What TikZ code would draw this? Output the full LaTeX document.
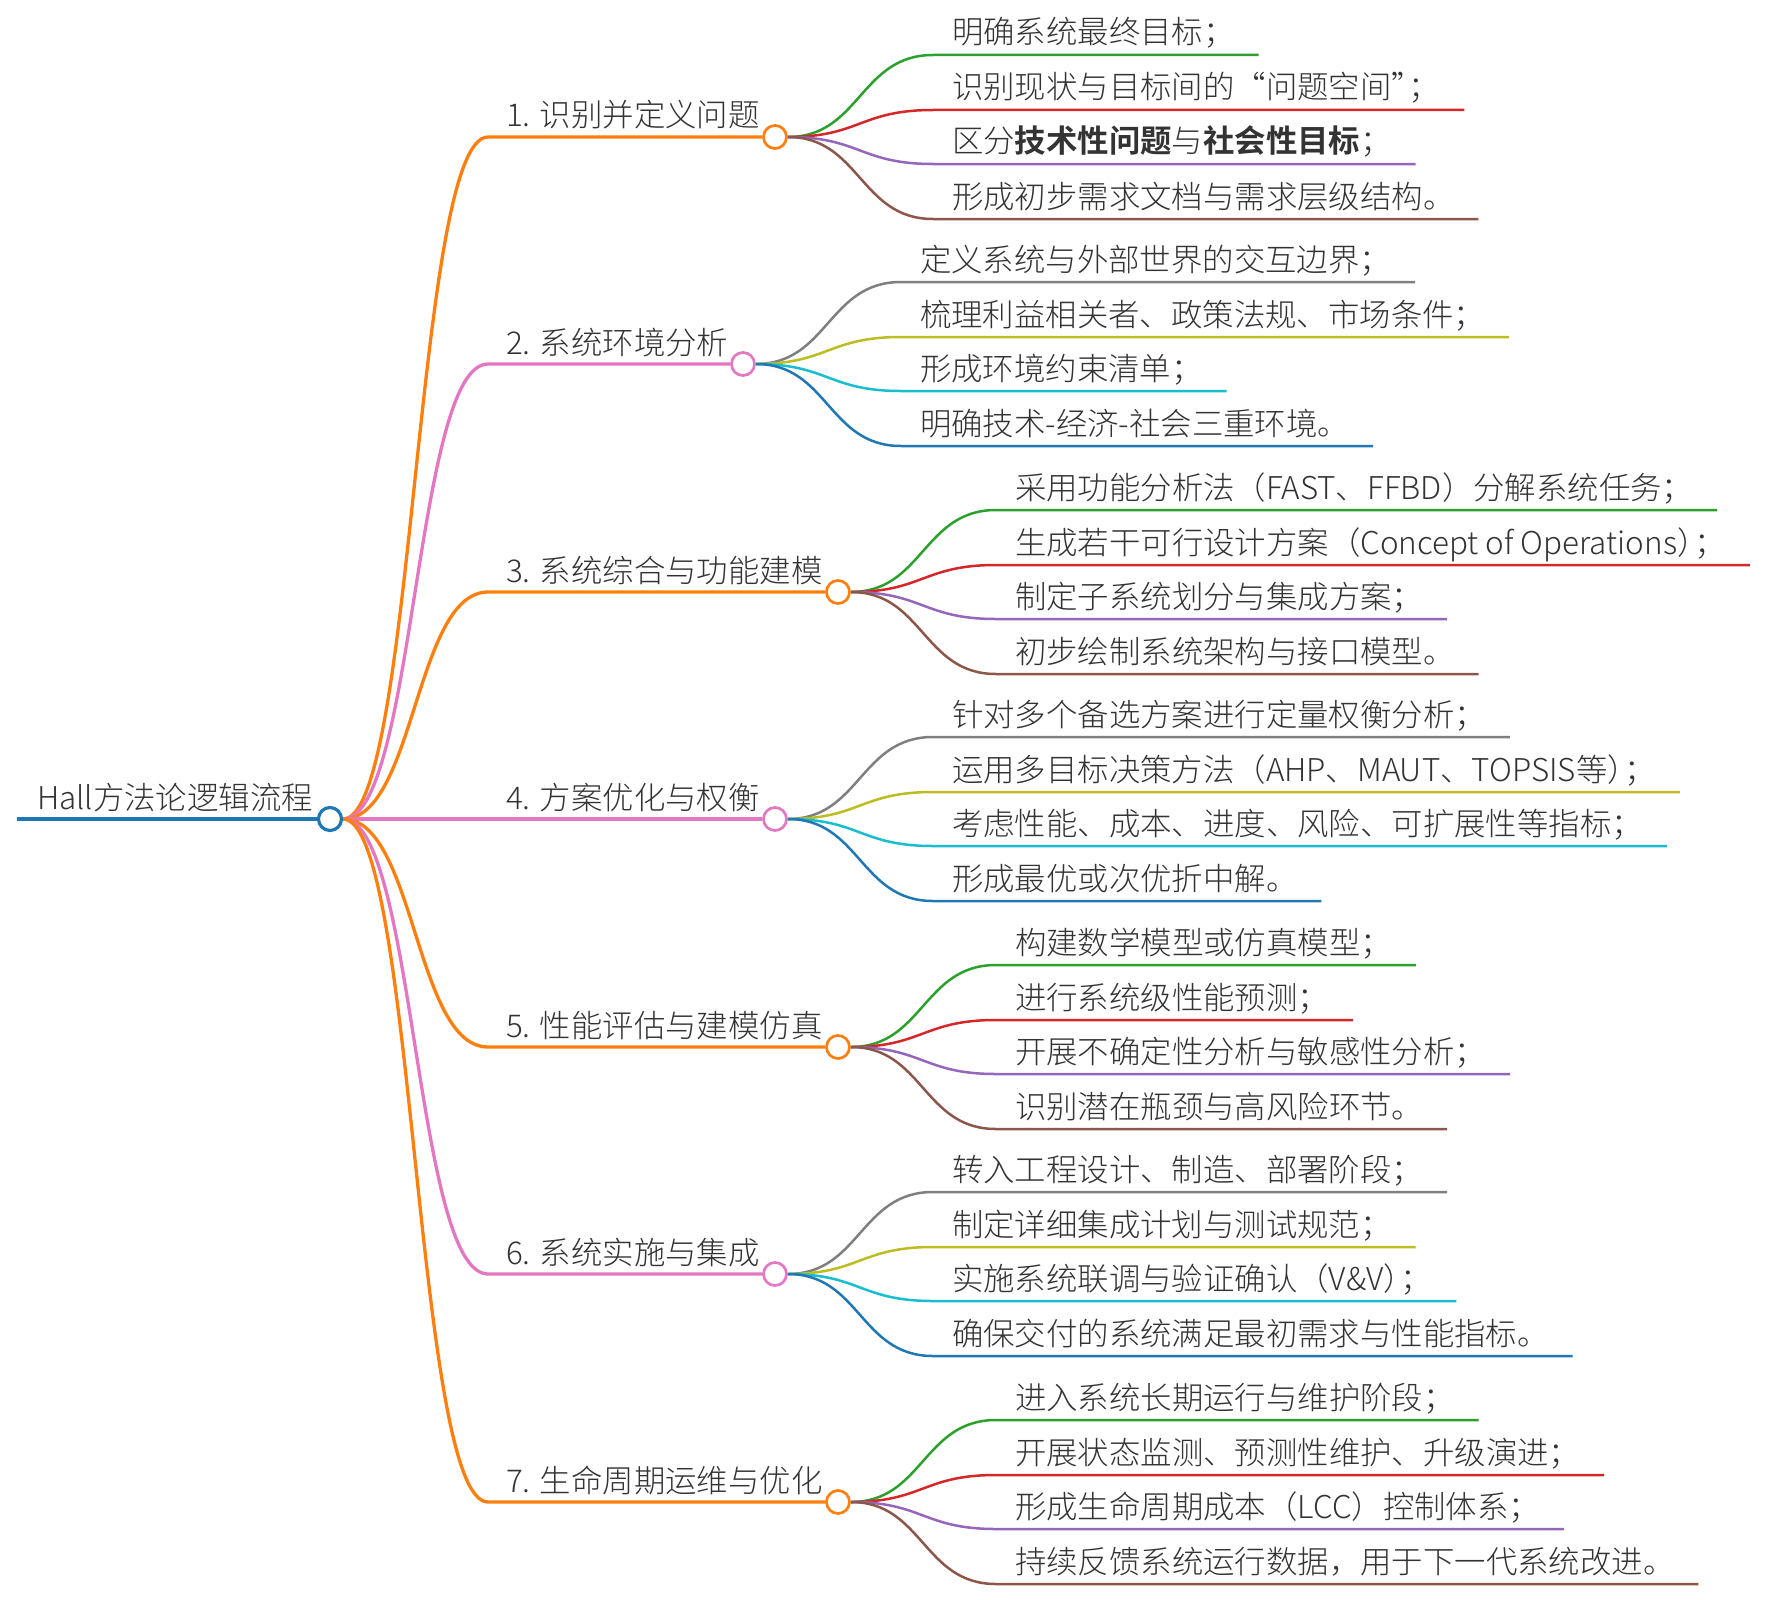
\documentclass[tikz,border=0pt]{standalone}
\usepackage{fontspec}
\setmainfont{Noto Sans CJK SC}[UprightFont={* Light}, BoldFont={* Bold}]
\usetikzlibrary{calc,backgrounds}
\definecolor{ink}{HTML}{333333}
\definecolor{cBlue}{HTML}{1F77B4}
\definecolor{cOrange}{HTML}{FF7F0E}
\definecolor{cGreen}{HTML}{2CA02C}
\definecolor{cRed}{HTML}{D62728}
\definecolor{cPurple}{HTML}{9467BD}
\definecolor{cBrown}{HTML}{8C564B}
\definecolor{cPink}{HTML}{E377C2}
\definecolor{cGray}{HTML}{7F7F7F}
\definecolor{cOlive}{HTML}{BCBD22}
\definecolor{cCyan}{HTML}{17BECF}
\newcommand\pq{\kern-0.45em}
\tikzset{
  txt/.style={inner sep=0pt, outer sep=0pt, text=ink, font=\fontsize{31.4}{36}\selectfont},
  dot/.style={circle, minimum size=23pt, inner sep=0pt, line width=2.7pt, fill=white},
  rootline/.style={line width=4.2pt},
  branchline/.style={line width=3.3pt},
  leafline/.style={line width=2.5pt},
}
% #1 branch name, #2 y, #3 circle x, #4 colour, #5 text
\newcommand\branchitem[5]{%
  \coordinate (#1s) at (488,#2);
  \node[dot, draw=#4] (#1) at (#3,#2) {};
  \node[txt, anchor=base west] (#1t) at ($(#1s)+(18,-10)$) {#5};
  \begin{pgfonlayer}{background}
    \draw[branchline, #4] (rc.east) .. controls (415,819) and (415,#2) .. (#1s) -- (#1);
  \end{pgfonlayer}
}
% #1 branch name, #2 dy, #3 colour, #4 leaf name, #5 text
\newcommand\leafitem[5]{%
  \coordinate (#4s) at ($(#1)+(158,#2)$);
  \node[txt, anchor=base west] (#4) at ($(#4s)+(19,-11)$) {#5};
  \begin{pgfonlayer}{background}
    \draw[leafline, #3] (#1.east) .. controls ($(#1)+(85,0)$) and ($(#4s)+(-73,0)$) .. (#4s) -- ($(#4.east |- #4s)+(24,0)$);
  \end{pgfonlayer}
}
\begin{document}
\begin{tikzpicture}[x=1pt,y=-1pt]
\useasboundingbox (0,0) rectangle (1772,1600);
% root
\coordinate (r0) at (17,819);
\node[dot, draw=cBlue, line width=3.2pt] (rc) at (330,819) {};
\node[txt, anchor=base west] (root) at (37,809) {Hall方法论逻辑流程};
\begin{pgfonlayer}{background}
  \draw[rootline, cBlue] (r0) -- (rc);
\end{pgfonlayer}
% branches
\branchitem{b1}{137}{775}{cOrange}{1. 识别并定义问题}
\branchitem{b2}{364}{743}{cPink}{2. 系统环境分析}
\branchitem{b3}{592}{838}{cOrange}{3. 系统综合与功能建模}
\branchitem{b4}{819}{775}{cPink}{4. 方案优化与权衡}
\branchitem{b5}{1047}{838}{cOrange}{5. 性能评估与建模仿真}
\branchitem{b6}{1274}{775}{cPink}{6. 系统实施与集成}
\branchitem{b7}{1502}{838}{cOrange}{7. 生命周期运维与优化}
% leaves of 1
\leafitem{b1}{-82}{cGreen}{l11}{明确系统最终目标；}
\leafitem{b1}{-27}{cRed}{l12}{识别现状与目标间的“问题空间”\pq；}
\leafitem{b1}{27}{cPurple}{l13}{区分\textbf{技术性问题}与\textbf{社会性目标}；}
\leafitem{b1}{82}{cBrown}{l14}{形成初步需求文档与需求层级结构。}
% leaves of 2
\leafitem{b2}{-82}{cGray}{l21}{定义系统与外部世界的交互边界；}
\leafitem{b2}{-27}{cOlive}{l22}{梳理利益相关者、政策法规、市场条件；}
\leafitem{b2}{27}{cCyan}{l23}{形成环境约束清单；}
\leafitem{b2}{82}{cBlue}{l24}{明确技术-经济-社会三重环境。}
% leaves of 3
\leafitem{b3}{-82}{cGreen}{l31}{采用功能分析法（FAST、FFBD）分解系统任务；}
\leafitem{b3}{-27}{cRed}{l32}{生成若干可行设计方案（Concept of Operations）\pq；}
\leafitem{b3}{27}{cPurple}{l33}{制定子系统划分与集成方案；}
\leafitem{b3}{82}{cBrown}{l34}{初步绘制系统架构与接口模型。}
% leaves of 4
\leafitem{b4}{-82}{cGray}{l41}{针对多个备选方案进行定量权衡分析；}
\leafitem{b4}{-27}{cOlive}{l42}{运用多目标决策方法（AHP、MAUT、TOPSIS等）\pq；}
\leafitem{b4}{27}{cCyan}{l43}{考虑性能、成本、进度、风险、可扩展性等指标；}
\leafitem{b4}{82}{cBlue}{l44}{形成最优或次优折中解。}
% leaves of 5
\leafitem{b5}{-82}{cGreen}{l51}{构建数学模型或仿真模型；}
\leafitem{b5}{-27}{cRed}{l52}{进行系统级性能预测；}
\leafitem{b5}{27}{cPurple}{l53}{开展不确定性分析与敏感性分析；}
\leafitem{b5}{82}{cBrown}{l54}{识别潜在瓶颈与高风险环节。}
% leaves of 6
\leafitem{b6}{-82}{cGray}{l61}{转入工程设计、制造、部署阶段；}
\leafitem{b6}{-27}{cOlive}{l62}{制定详细集成计划与测试规范；}
\leafitem{b6}{27}{cCyan}{l63}{实施系统联调与验证确认（V\&V）\pq；}
\leafitem{b6}{82}{cBlue}{l64}{确保交付的系统满足最初需求与性能指标。}
% leaves of 7
\leafitem{b7}{-82}{cGreen}{l71}{进入系统长期运行与维护阶段；}
\leafitem{b7}{-27}{cRed}{l72}{开展状态监测、预测性维护、升级演进；}
\leafitem{b7}{27}{cPurple}{l73}{形成生命周期成本（LCC）控制体系；}
\leafitem{b7}{82}{cBrown}{l74}{持续反馈系统运行数据，用于下一代系统改进。}
\end{tikzpicture}
\end{document}
